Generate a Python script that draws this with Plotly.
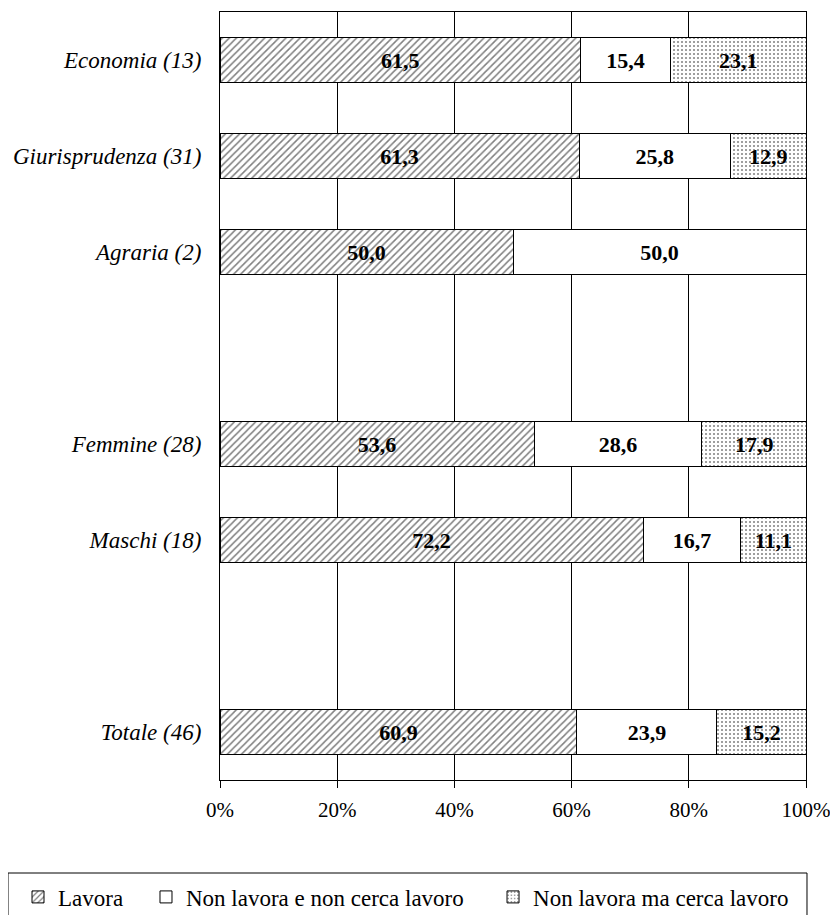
import plotly.graph_objects as go

categories = ["Economia (13)", "Giurisprudenza (31)", "Agraria (2)", " ",
              "Femmine (28)", "Maschi (18)", "  ", "Totale (46)"]
lavora = [61.5, 61.3, 50.0, None, 53.6, 72.2, None, 60.9]
non_lavora_non_cerca = [15.4, 25.8, 50.0, None, 28.6, 16.7, None, 23.9]
non_lavora_cerca = [23.1, 12.9, None, None, 17.9, 11.1, None, 15.2]
series_names = ["Lavora", "Non lavora e non cerca lavoro", "Non lavora ma cerca lavoro"]
tick_vals = [0, 20, 40, 60, 80, 100]
tick_text = ["0%", "20%", "40%", "60%", "80%", "100%"]

FONT = "Liberation Serif, Times New Roman, serif"

patterns = [
    dict(shape="/", fgcolor="black", bgcolor="white", size=5, solidity=0.3),
    dict(shape="", fgcolor="black", bgcolor="white"),
    dict(shape=".", fgcolor="black", bgcolor="white", size=4, solidity=0.2),
]
legend_ids = ["legend", "legend2", "legend3"]
legend_x = [-0.3447, -0.1263, 0.4659]

fig = go.Figure()
for name, vals, pat, lg in zip(series_names, [lavora, non_lavora_non_cerca, non_lavora_cerca],
                               patterns, legend_ids):
    fig.add_trace(go.Bar(
        y=categories, x=vals, name=name, orientation="h", legend=lg,
        marker=dict(color="white", line=dict(color="black", width=1), pattern=pat),
        texttemplate="<b>%{x:.1f}</b>", textposition="inside",
        insidetextanchor="middle", textangle=0,
        textfont=dict(family=FONT, size=22, color="black"),
        constraintext="none",
    ))

legend_style = dict(orientation="h", xanchor="left", y=-0.1523, yanchor="middle",
                    font=dict(family=FONT, size=23, color="black"),
                    itemwidth=30, bgcolor="rgba(0,0,0,0)")

fig.update_layout(
    width=822, height=907,
    barmode="stack", bargap=0.54,
    separators=",.",
    paper_bgcolor="white", plot_bgcolor="white",
    margin=dict(l=212, r=24, t=4, b=135, autoexpand=False),
    font=dict(family=FONT, size=22, color="black"),
    showlegend=True,
    legend=dict(x=legend_x[0], **legend_style),
    legend2=dict(x=legend_x[1], **legend_style),
    legend3=dict(x=legend_x[2], **legend_style),
    shapes=[dict(type="rect", xref="paper", yref="paper",
                 x0=-0.3618, x1=1.0017, y0=-0.1211, y1=-0.1836,
                 line=dict(color="black", width=1), fillcolor="rgba(0,0,0,0)")],
)
fig.update_xaxes(range=[0, 100], tickvals=tick_vals, ticktext=tick_text,
                 showgrid=True, gridcolor="black", gridwidth=1,
                 showline=True, linecolor="black", linewidth=1, mirror=True,
                 ticks="outside", ticklen=7, tickcolor="black",
                 ticklabelstandoff=4, ticklabeloverflow="allow",
                 tickfont=dict(family=FONT, size=21), zeroline=False, automargin=False)
fig.update_yaxes(categoryorder="array", categoryarray=categories, autorange="reversed",
                 showgrid=False, showline=True, linecolor="black", linewidth=1, mirror=True,
                 ticks="", ticklabelstandoff=13, automargin=False,
                 tickfont=dict(family=FONT, size=23, style="italic"))

fig.write_html("out.html")
